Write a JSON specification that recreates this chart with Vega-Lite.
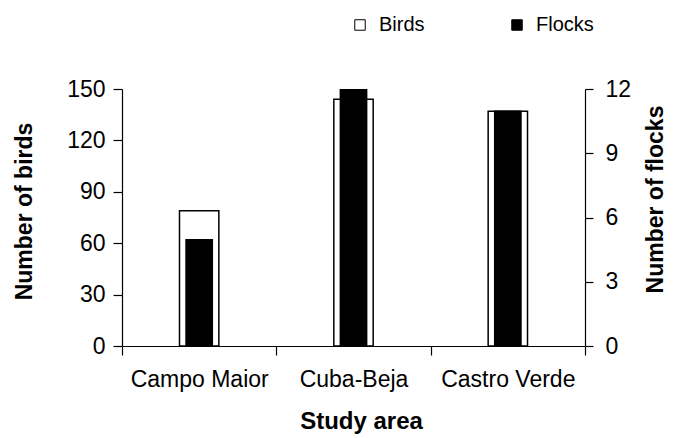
{
  "$schema": "https://vega.github.io/schema/vega-lite/v6.json",
  "width": 463,
  "height": 257,
  "autosize": {"type": "none"},
  "padding": {"left": 122, "top": 89, "right": 88, "bottom": 92},
  "background": "white",
  "config": {
    "font": "Liberation Sans",
    "view": {"stroke": null},
    "axis": {
      "domainColor": "black",
      "tickColor": "black",
      "labelColor": "black",
      "titleColor": "black",
      "grid": false,
      "labelFont": "Liberation Sans",
      "titleFont": "Liberation Sans",
      "labelFontSize": 23,
      "titleFontSize": 23,
      "titleFontWeight": "bold",
      "domainWidth": 1.2,
      "tickWidth": 1.2
    },
    "legend": {"labelFont": "Liberation Sans", "labelColor": "black"}
  },
  "data": {
    "values": [
      {"area": "Campo Maior", "series": "Birds", "value": 79},
      {"area": "Cuba-Beja", "series": "Birds", "value": 144},
      {"area": "Castro Verde", "series": "Birds", "value": 137},
      {"area": "Campo Maior", "series": "Flocks", "value": 5},
      {"area": "Cuba-Beja", "series": "Flocks", "value": 12},
      {"area": "Castro Verde", "series": "Flocks", "value": 11}
    ]
  },
  "encoding": {
    "x": {
      "field": "area",
      "type": "nominal",
      "sort": ["Campo Maior", "Cuba-Beja", "Castro Verde"],
      "scale": {"paddingInner": 0, "paddingOuter": 0},
      "axis": {
        "title": "Study area",
        "labelAngle": 0,
        "tickBand": "extent",
        "tickSize": 9,
        "labelPadding": 13,
        "titlePadding": 18,
        "titleFontSize": 24,
        "titleX": 239
      }
    },
    "color": {
      "field": "series",
      "type": "nominal",
      "scale": {"domain": ["Birds", "Flocks"], "range": ["white", "black"]},
      "legend": {
        "title": null,
        "orient": "none",
        "direction": "horizontal",
        "legendX": 228,
        "legendY": -74,
        "symbolType": "square",
        "symbolSize": 110,
        "symbolStrokeColor": "black",
        "symbolStrokeWidth": 1,
        "labelFontSize": 20,
        "labelOffset": 9,
        "columnPadding": 82
      }
    }
  },
  "layer": [
    {
      "transform": [{"filter": "datum.series === 'Birds'"}],
      "mark": {"type": "bar", "width": {"band": 0.255}, "stroke": "black", "strokeWidth": 1.5},
      "encoding": {
        "y": {
          "field": "value",
          "type": "quantitative",
          "scale": {"domain": [0, 150], "nice": false},
          "axis": {
            "title": "Number of birds",
            "orient": "left",
            "values": [0, 30, 60, 90, 120, 150],
            "tickSize": 9,
            "labelPadding": 8,
            "titleX": -86,
            "titleY": 122,
            "titleBaseline": "bottom",
            "titleAngle": 270
          }
        }
      }
    },
    {
      "transform": [{"filter": "datum.series === 'Flocks'"}],
      "mark": {"type": "bar", "width": {"band": 0.18}},
      "encoding": {
        "y": {
          "field": "value",
          "type": "quantitative",
          "scale": {"domain": [0, 12], "nice": false},
          "axis": {
            "title": "Number of flocks",
            "orient": "right",
            "values": [0, 3, 6, 9, 12],
            "tickSize": 8,
            "labelPadding": 12,
            "titleX": 82,
            "titleY": 110,
            "titleBaseline": "bottom",
            "titleAngle": 270
          }
        }
      }
    }
  ],
  "resolve": {"scale": {"y": "independent"}}
}
